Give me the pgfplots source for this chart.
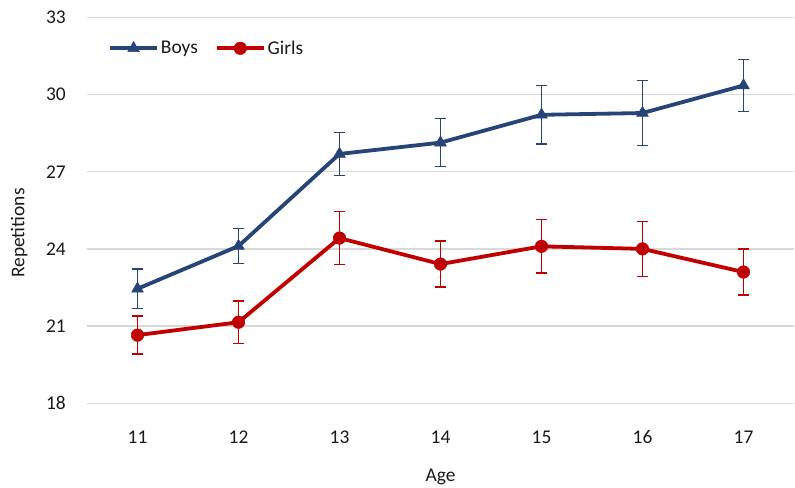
\documentclass[border=0pt]{standalone}
\usepackage{pgfplots}
\pgfplotsset{compat=1.18}
\usepackage{fontspec}
\setmainfont{Carlito}
\definecolor{boys}{HTML}{264478}
\definecolor{girls}{HTML}{C00000}
\definecolor{gridc}{HTML}{D9D9D9}
\definecolor{textc}{HTML}{1A1A1A}
\begin{document}
\begin{tikzpicture}
\begin{axis}[
  name=ax,
  scale only axis, width=707bp, height=386bp,
  xmin=10.5, xmax=17.5, ymin=18, ymax=33,
  xtick={11,12,13,14,15,16,17}, ytick={18,21,24,27,30,33},
  axis line style={draw=none}, major tick length=0pt,
  ymajorgrids, grid style={draw=gridc, line width=1.3bp},
  clip=false,
  /pgf/number format/assume math mode=true,
  tick label style={font=\fontsize{19.5}{22}\selectfont, inner sep=0pt, text=textc},
  xticklabel style={anchor=center, yshift=-33.7bp},
  yticklabel style={anchor=east, xshift=-21bp},
  xlabel={Age},
  every axis x label/.style={at={(axis description cs:0.5,0)}, anchor=base, yshift=-78bp,
    font=\fontsize{19.5}{22}\selectfont, text=textc},
  ylabel={Repetitions},
  every axis y label/.style={at={(axis description cs:-0.096,0.441)}, rotate=90, anchor=center,
    font=\fontsize{19.5}{22}\selectfont, text=textc},
  legend columns=2,
  legend style={at={(axis description cs:0,1)}, anchor=west, xshift=21bp, yshift=-31bp,
    draw=none, fill=none, inner sep=0pt, font=\fontsize{19.5}{22}\selectfont,
    nodes={inner sep=2bp, text=textc},
    /tikz/every even column/.append style={column sep=15bp}},
  legend image code/.code={\draw[#1, mark repeat=2, mark phase=2] plot coordinates {(0bp,0bp) (23.5bp,0bp) (47bp,0bp)};},
]
\addplot[boys, line width=3.8bp, mark=triangle*, mark size=6.8bp, mark options={solid, line width=0.5bp},
  error bars/.cd, y dir=both, y explicit,
  error bar style={line width=1.5bp, boys},
  error mark options={rotate=90, mark size=5.8bp, line width=1.5bp, boys}]
coordinates {
 (11,22.45) +- (0,0.76)
 (12,24.11) +- (0,0.68)
 (13,27.69) +- (0,0.83)
 (14,28.13) +- (0,0.93)
 (15,29.21) +- (0,1.14)
 (16,29.28) +- (0,1.26)
 (17,30.35) +- (0,1.01)
};
\addlegendentry{Boys}
\addplot[girls, line width=3.8bp, mark=*, mark size=6.3bp, mark options={solid, line width=0.5bp},
  error bars/.cd, y dir=both, y explicit,
  error bar style={line width=1.5bp, girls},
  error mark options={rotate=90, mark size=5.8bp, line width=1.5bp, girls}]
coordinates {
 (11,20.65) +- (0,0.74)
 (12,21.15) +- (0,0.83)
 (13,24.42) +- (0,1.03)
 (14,23.41) +- (0,0.89)
 (15,24.10) +- (0,1.04)
 (16,24.00) +- (0,1.07)
 (17,23.10) +- (0,0.90)
};
\addlegendentry{Girls}
\end{axis}
\pgfresetboundingbox
\path[use as bounding box] (ax.south west) ++(-87bp,-84.7bp) rectangle ++(795bp,488bp);
\end{tikzpicture}
\end{document}
